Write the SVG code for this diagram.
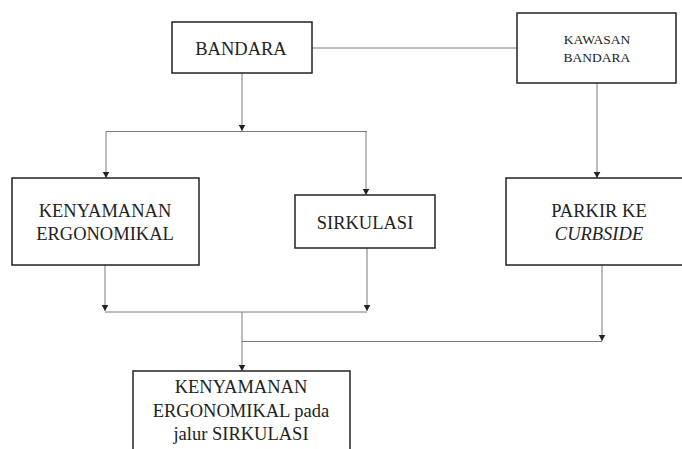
<svg xmlns="http://www.w3.org/2000/svg" width="682" height="449" viewBox="0 0 682 449">
<style>
.box{fill:#fff;stroke:#222;stroke-width:1.5}
.t{font-family:"Liberation Serif","Times New Roman",serif;font-size:18.5px;fill:#222;text-anchor:middle}
.s{font-size:13.5px}
.c{fill:none;stroke:#7a7a7a;stroke-width:1}
</style>
<defs>
<marker id="ah" markerUnits="userSpaceOnUse" markerWidth="8" markerHeight="8" viewBox="0 0 8 8" refX="4" refY="7" orient="auto-start-reverse">
<path d="M0.5,1 L7.5,1 L4,7 Z" fill="#222" transform="rotate(-90 4 4)"/>
</marker>
<marker id="a" markerUnits="userSpaceOnUse" markerWidth="8" markerHeight="8" viewBox="0 0 8 8" refX="7" refY="4" orient="auto">
<path d="M1,0.7 L7,4 L1,7.3 Z" fill="#222"/>
</marker>
</defs>
<g id="connectors">
<path class="c" d="M312,48 H517"/>
<path class="c" d="M242,73 V131" marker-end="url(#a)"/>
<path class="c" d="M106,131.5 H367"/>
<path class="c" d="M106,131.5 V178" marker-end="url(#a)"/>
<path class="c" d="M366,131.5 V195" marker-end="url(#a)"/>
<path class="c" d="M597,83 V178" marker-end="url(#a)"/>
<path class="c" d="M105,265 V311" marker-end="url(#a)"/>
<path class="c" d="M367,248 V311" marker-end="url(#a)"/>
<path class="c" d="M105,312 H367"/>
<path class="c" d="M242,312 V371" marker-end="url(#a)"/>
<path class="c" d="M602,265 V341" marker-end="url(#a)"/>
<path class="c" d="M242,341.5 H602"/>
</g>
<g id="bandara">
<rect class="box" x="172" y="22" width="140" height="51"/>
<text class="t" x="241" y="55">BANDARA</text>
</g>
<g id="kawasan">
<rect class="box" x="517" y="13" width="159" height="70"/>
<text class="t s" x="597" y="44">KAWASAN</text>
<text class="t s" x="597" y="62">BANDARA</text>
</g>
<g id="kenyamanan">
<rect class="box" x="12" y="178" width="187" height="87"/>
<text class="t" x="105" y="217">KENYAMANAN</text>
<text class="t" x="105" y="240">ERGONOMIKAL</text>
</g>
<g id="sirkulasi">
<rect class="box" x="295" y="195" width="140" height="53"/>
<text class="t" x="365" y="229">SIRKULASI</text>
</g>
<g id="parkir">
<rect class="box" x="506" y="178" width="180" height="87"/>
<text class="t" x="599" y="217">PARKIR KE</text>
<text class="t" x="599" y="240" font-style="italic">CURBSIDE</text>
</g>
<g id="hasil">
<rect class="box" x="133" y="371" width="217" height="90"/>
<text class="t" x="241" y="393">KENYAMANAN</text>
<text class="t" x="241" y="417">ERGONOMIKAL pada</text>
<text class="t" x="241" y="440">jalur SIRKULASI</text>
</g>
</svg>
